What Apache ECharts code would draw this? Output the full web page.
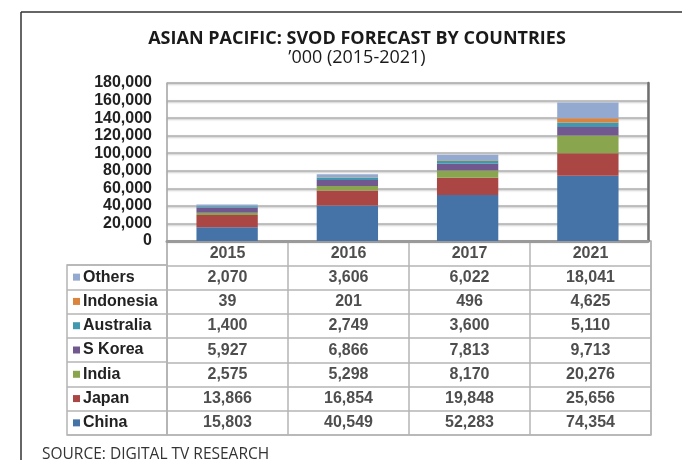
<!DOCTYPE html>
<html>
<head>
<meta charset="utf-8">
<script src="https://cdn.jsdelivr.net/npm/echarts@6/dist/echarts.min.js"></script>
<style>
  html, body { margin: 0; padding: 0; background: #fff; }
  #chart { width: 682px; height: 460px; }
</style>
</head>
<body>
<div id="chart"></div>
<script>
// Subscribers in thousands, stacked bottom (China) to top (Others)
const years = ['2015', '2016', '2017', '2021'];
const countries = ['China', 'Japan', 'India', 'S Korea', 'Australia', 'Indonesia', 'Others'];
const china = [15803, 40549, 52283, 74354];
const japan = [13866, 16854, 19848, 25656];
const india = [2575, 5298, 8170, 20276];
const sKorea = [5927, 6866, 7813, 9713];
const australia = [1400, 2749, 3600, 5110];
const indonesia = [39, 201, 496, 4625];
const others = [2070, 3606, 6022, 18041];
const yAxisMin = 0;
const yAxisMax = 180000;
const yAxisStep = 20000;

const values = [china, japan, india, sKorea, australia, indonesia, others];
const colors = ['#4572A7', '#AA4643', '#89A54E', '#71588F', '#4198AF', '#DB843D', '#93A9CF'];

const FONT = '"Liberation Sans", Arial, sans-serif';
const fmt = v => Number(v).toLocaleString('en-US');

// Table rows run from Others (top) down to China (bottom)
const tableRows = countries.slice().reverse();
const headerKey = 'header';

const cellData = [];
years.forEach((y, i) => {
  cellData.push({ value: [y, headerKey], text: y });
  tableRows.forEach(name => {
    const k = countries.indexOf(name);
    cellData.push({ value: [y, name], text: fmt(values[k][i]) });
  });
});

const swatchRich = {};
countries.forEach((c, k) => {
  swatchRich['s' + k] = { width: 7, height: 7, backgroundColor: colors[k] };
});
swatchRich.n = { fontFamily: FONT, fontSize: 16, fontWeight: 'bold', color: '#222', padding: [0, 0, 0, 3] };

const tableLine = { color: '#b4b4b4', width: 1.5 };
const textStyle = { fontFamily: FONT, fontSize: 16, fontWeight: 'bold', color: '#222' };

const chart = echarts.init(document.getElementById('chart'), null, { renderer: 'canvas' });
chart.setOption({
  backgroundColor: '#fff',
  animation: false,
  title: [
    {
      text: 'ASIAN PACIFIC: SVOD FORECAST BY COUNTRIES',
      left: 357, top: 30, textAlign: 'center', padding: 0,
      textStyle: { fontFamily: '"Open Sans", sans-serif', fontSize: 18, fontWeight: 'bold', color: '#1a1a1a' }
    },
    {
      text: '\u2019000 (2015-2021)',
      left: 357, top: 49, textAlign: 'center', padding: 0,
      textStyle: { fontFamily: '"Open Sans", sans-serif', fontSize: 18, fontWeight: 'normal', color: '#1a1a1a' }
    },
    {
      text: 'SOURCE: DIGITAL TV RESEARCH',
      left: 42, top: 447, padding: 0,
      textStyle: { fontFamily: '"Open Sans", sans-serif', fontSize: 15.5, fontWeight: 'normal', color: '#333' }
    }
  ],
  graphic: [
    { type: 'line', shape: { x1: 21, y1: 12, x2: 682, y2: 12 }, style: { stroke: '#333', lineWidth: 1.5 } },
    { type: 'line', shape: { x1: 21, y1: 12, x2: 21, y2: 460 }, style: { stroke: '#333', lineWidth: 1.5 } }
  ],
  grid: [
    { left: 167, top: 83, width: 481, height: 158, show: true, borderColor: '#c8c8c8', borderWidth: 1 },
    { left: 167, top: 241, width: 484, height: 194, show: true, borderColor: '#b4b4b4', borderWidth: 1.5 },
    { left: 67, top: 265, width: 100, height: 170, show: true, borderColor: '#b4b4b4', borderWidth: 1.5 }
  ],
  xAxis: [
    {
      gridIndex: 0, type: 'category', data: years,
      axisLine: { show: true, lineStyle: { color: '#9a9a9a', width: 3 } },
      axisTick: { show: false }, axisLabel: { show: false }
    },
    {
      gridIndex: 1, type: 'category', data: years,
      axisLine: { show: false }, axisTick: { show: false }, axisLabel: { show: false },
      splitLine: { show: true, lineStyle: tableLine }
    },
    {
      gridIndex: 2, type: 'category', data: [''],
      axisLine: { show: false }, axisTick: { show: false }, axisLabel: { show: false }
    }
  ],
  yAxis: [
    {
      gridIndex: 0, type: 'value', min: yAxisMin, max: yAxisMax, interval: yAxisStep,
      axisLine: { show: true, lineStyle: { color: '#aaa', width: 1.5 } },
      axisTick: { show: false },
      axisLabel: { ...textStyle, margin: 15, formatter: v => fmt(v) },
      splitLine: { show: true, lineStyle: { color: '#b0b0b0', width: 1.5, shadowColor: 'rgba(0,0,0,0.25)', shadowBlur: 2, shadowOffsetY: 1 } }
    },
    {
      gridIndex: 0, type: 'value', min: yAxisMin, max: yAxisMax, interval: yAxisStep, position: 'right',
      axisLine: { show: true, lineStyle: { color: '#6f6f6f', width: 2.5 } },
      axisTick: { show: false }, axisLabel: { show: false }, splitLine: { show: false }
    },
    {
      gridIndex: 1, type: 'category', inverse: true, data: [headerKey].concat(tableRows),
      axisLine: { show: false }, axisTick: { show: false }, axisLabel: { show: false },
      splitLine: { show: true, lineStyle: tableLine }
    },
    {
      gridIndex: 2, type: 'category', inverse: true, data: tableRows,
      axisLine: { show: false }, axisTick: { show: false },
      axisLabel: {
        inside: true, margin: 6,
        formatter: name => '{s' + countries.indexOf(name) + '|}{n|' + name + '}',
        rich: swatchRich
      },
      splitLine: { show: true, lineStyle: tableLine }
    }
  ],
  series: countries.map((name, k) => ({
    name: name,
    type: 'bar',
    stack: 'total',
    xAxisIndex: 0,
    yAxisIndex: 0,
    barWidth: '51%',
    itemStyle: { color: colors[k] },
    data: values[k]
  })).concat([{
    name: 'table',
    type: 'scatter',
    xAxisIndex: 1,
    yAxisIndex: 2,
    symbolSize: 0,
    silent: true,
    label: {
      show: true, position: 'inside', ...textStyle,
      formatter: p => p.data.text
    },
    data: cellData
  }])
});
</script>
</body>
</html>
